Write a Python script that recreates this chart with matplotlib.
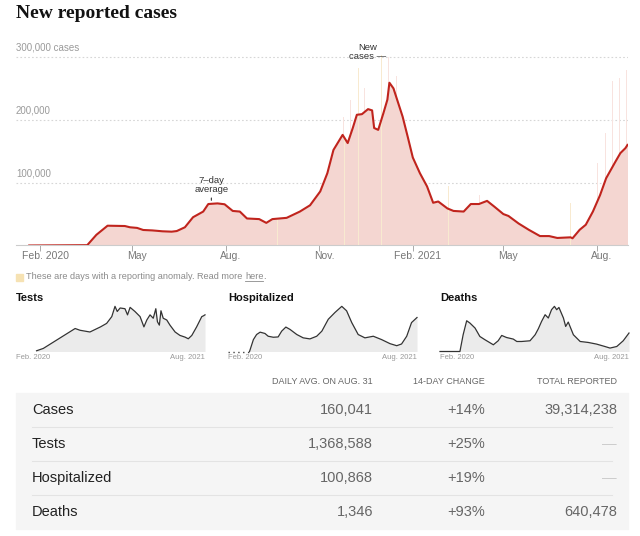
import pandas as pd
import matplotlib
matplotlib.use("Agg")
import matplotlib.pyplot as plt
from matplotlib.patches import Rectangle
from matplotlib.lines import Line2D
from matplotlib.transforms import ScaledTranslation

# 7-day average of new cases
avg_dates = ['2020-01-21', '2020-03-18', '2020-03-27', '2020-04-07', '2020-04-24', '2020-04-29',
             '2020-05-06', '2020-05-12', '2020-05-21', '2020-05-31', '2020-06-09', '2020-06-14',
             '2020-06-22', '2020-06-30', '2020-07-10', '2020-07-15', '2020-07-24', '2020-07-31',
             '2020-08-08', '2020-08-15', '2020-08-22', '2020-09-03', '2020-09-10', '2020-09-16',
             '2020-09-30', '2020-10-13', '2020-10-23', '2020-11-02', '2020-11-09', '2020-11-15',
             '2020-11-24', '2020-11-29', '2020-12-04', '2020-12-08', '2020-12-13', '2020-12-19',
             '2020-12-23', '2020-12-25', '2020-12-29', '2021-01-03', '2021-01-07', '2021-01-09',
             '2021-01-13', '2021-01-22', '2021-01-27', '2021-02-01', '2021-02-08', '2021-02-15',
             '2021-02-21', '2021-02-26', '2021-03-07', '2021-03-13', '2021-03-23', '2021-03-30',
             '2021-04-07', '2021-04-15', '2021-04-22', '2021-05-01', '2021-05-06', '2021-05-16',
             '2021-05-26', '2021-06-06', '2021-06-15', '2021-06-23', '2021-07-06', '2021-07-08',
             '2021-07-15', '2021-07-21', '2021-07-28', '2021-08-04', '2021-08-10', '2021-08-19',
             '2021-08-24', '2021-08-29', '2021-08-31']
avg_values = [0, 500, 17000, 31500, 31000, 29000,
              28000, 24700, 24000, 22600, 22000, 23000,
              29000, 45000, 54000, 66000, 67000, 65600,
              55000, 54000, 43000, 42000, 36000, 42000,
              44000, 54000, 64000, 86000, 115000, 152000,
              176000, 163000, 187000, 208000, 209000, 217000,
              215000, 187000, 184000, 210000, 232000, 259000,
              250000, 205000, 173000, 140000, 115000, 94000,
              68000, 70000, 59000, 55000, 54000, 66000,
              66000, 71000, 62000, 50000, 47000, 35000,
              25000, 15000, 15000, 12000, 13000, 11500,
              25000, 33000, 54000, 80000, 107000, 133000,
              147000, 155000, 160041]

# single days that stand out above the average
spike_dates = ['2020-11-25', '2020-12-02', '2020-12-16', '2021-01-08', '2021-01-16',
               '2021-04-08', '2021-08-02', '2021-08-09', '2021-08-16', '2021-08-23', '2021-08-30']
spike_values = [205000, 232000, 250000, 300000, 269000,
                80000, 131000, 179000, 261000, 266000, 280000]

# days with a reporting anomaly
anomaly_dates = ['2020-09-21', '2020-11-26', '2020-12-10', '2021-01-01', '2021-03-08', '2021-07-06']
anomaly_values = [44000, 170000, 282000, 303000, 94000, 67000]

tests_dates = ['2020-03-25', '2020-04-15', '2020-07-23', '2020-08-07', '2020-09-07', '2020-10-10',
               '2020-10-29', '2020-11-14', '2020-11-24', '2020-12-01', '2020-12-10', '2020-12-25',
               '2021-01-02', '2021-01-10', '2021-01-25', '2021-02-10', '2021-02-22', '2021-03-03',
               '2021-03-13', '2021-03-23', '2021-03-31', '2021-04-05', '2021-04-11', '2021-04-16',
               '2021-04-23', '2021-05-04', '2021-05-14', '2021-05-30', '2021-06-14', '2021-06-30',
               '2021-07-10', '2021-07-21', '2021-08-05', '2021-08-21', '2021-08-26', '2021-08-31']
tests_values = [27000, 115000, 858000, 793000, 728000, 919000,
                1049000, 1302000, 1685000, 1494000, 1624000, 1597000,
                1367000, 1647000, 1494000, 1302000, 919000, 1176000,
                1367000, 1241000, 1597000, 1111000, 984000, 1520000,
                1241000, 1176000, 984000, 728000, 601000, 536000,
                475000, 601000, 919000, 1302000, 1330000, 1368588]

hosp_dates = ['2020-03-28', '2020-04-09', '2020-04-19', '2020-04-30', '2020-05-15', '2020-05-25',
              '2020-06-10', '2020-06-25', '2020-07-06', '2020-07-19', '2020-08-01', '2020-08-22',
              '2020-09-11', '2020-10-02', '2020-10-23', '2020-11-08', '2020-11-28', '2020-12-19',
              '2021-01-09', '2021-01-24', '2021-02-09', '2021-03-01', '2021-03-22', '2021-04-17',
              '2021-05-13', '2021-06-08', '2021-06-29', '2021-07-14', '2021-07-30', '2021-08-14',
              '2021-08-31']
hosp_values = [0, 35300, 50400, 57400, 53500, 45300,
               42300, 43200, 60400, 72500, 65500, 50400,
               40500, 37400, 45300, 60400, 95700, 116000,
               134000, 120800, 85800, 50400, 40500, 45300,
               35300, 23300, 17200, 22300, 45300, 85800,
               100868]

deaths_dates = ['2020-01-21', '2020-03-23', '2020-04-02', '2020-04-13', '2020-04-23', '2020-05-09',
                '2020-05-24', '2020-06-09', '2020-07-05', '2020-07-20', '2020-07-31', '2020-08-15',
                '2020-09-05', '2020-09-16', '2020-10-01', '2020-10-27', '2020-11-12', '2020-11-22',
                '2020-12-02', '2020-12-13', '2020-12-23', '2021-01-02', '2021-01-11', '2021-01-18',
                '2021-01-25', '2021-02-08', '2021-02-15', '2021-02-23', '2021-03-11', '2021-04-01',
                '2021-04-26', '2021-05-22', '2021-06-17', '2021-07-03', '2021-07-24', '2021-08-13',
                '2021-08-31']
deaths_values = [0, 0, 1220, 2240, 2075, 1710,
                 1095, 855, 490, 780, 1170, 1020,
                 905, 730, 730, 780, 1220, 1660,
                 2190, 2680, 2440, 3045, 3290, 3045,
                 3210, 2440, 1825, 2145, 1220, 730,
                 660, 540, 365, 250, 365, 780,
                 1346]

month_ticks = ['2020-02-01', '2020-05-01', '2020-08-01', '2020-11-01',
               '2021-02-01', '2021-05-01', '2021-08-01']
month_labels = ['Feb. 2020', 'May', 'Aug.', 'Nov.', 'Feb. 2021', 'May', 'Aug.']

row_names = ['Cases', 'Tests', 'Hospitalized', 'Deaths']
daily_avg = ['160,041', '1,368,588', '100,868', '1,346']
change_14 = ['+14%', '+25%', '+19%', '+93%']
total_reported = ['39,314,238', '\u2014', '\u2014', '640,478']

W, H = 640, 536
RED = '#c0241d'
PINK = '#f4d6d1'
SPIKE = '#f8e3df'
YELLOW = '#f8ead0'
SANS = ['Liberation Sans', 'DejaVu Sans']
NARROW = ['Liberation Sans Narrow', 'Liberation Sans', 'DejaVu Sans']

fig = plt.figure(figsize=(W / 100, H / 100), dpi=100)


def fx(x):
    return x / W


def fy(y):
    return 1 - y / H


def px_axes(x0, y0, x1, y1):
    return fig.add_axes([fx(x0), fy(y1), (x1 - x0) / W, (y1 - y0) / H])


fig.text(fx(16), fy(18), 'New reported cases', family=['Liberation Serif'], weight='bold',
         fontsize=14, color='#121212', va='baseline')

# ---- main chart
ax = px_axes(16, 40, 628, 245.5)
d = pd.to_datetime(avg_dates)
ax.bar(pd.to_datetime(spike_dates), spike_values, width=1.0, color=SPIKE, lw=0, zorder=1)
ax.fill_between(d, avg_values, color=PINK, lw=0, zorder=2)
ax.bar(pd.to_datetime(anomaly_dates), anomaly_values, width=0.9, color=YELLOW, lw=0, zorder=3)
ax.plot(d, avg_values, color=RED, lw=1.5, zorder=4, solid_joinstyle='round')

ax.set_xlim(pd.Timestamp('2020-01-08'), pd.Timestamp('2021-08-31 12:00'))
ax.set_ylim(0, 327000)
for v, lab in [(100000, '100,000'), (200000, '200,000'), (300000, '300,000 cases')]:
    ax.axhline(v, color='#d6d6d6', lw=0.8, ls=(0, (1.5, 2)), zorder=0)
    t = ax.text(0, v, lab, fontsize=7, color='#9a9a9a', family=SANS, va='bottom', ha='left')
    t.set_transform(ax.get_yaxis_transform() + ScaledTranslation(0, 4 / 100, fig.dpi_scale_trans))

for s in ['top', 'right', 'left']:
    ax.spines[s].set_visible(False)
ax.spines['bottom'].set_color('#cccccc')
ax.spines['bottom'].set_linewidth(0.8)
ax.set_yticks([])
ax.set_xticks(pd.to_datetime(month_ticks))
ax.set_xticklabels([])
ax.tick_params(axis='x', which='major', length=4, width=0.7, color='#aaaaaa')
# labels sit a few days right of each tick
ax.set_xticks(pd.to_datetime(month_ticks) + pd.Timedelta(days=5), minor=True)
ax.set_xticklabels(month_labels, minor=True, fontsize=7.5, color='#777777', family=SANS)
ax.tick_params(axis='x', which='minor', length=0, pad=4)

# annotations
ax.annotate('', xy=(pd.Timestamp('2020-07-18'), 67500), xytext=(pd.Timestamp('2020-07-18'), 80000),
            arrowprops=dict(arrowstyle='-', color='#333333', lw=0.8))
ax.text(pd.Timestamp('2020-07-18'), 82000, '7\u2013day\naverage', ha='center', va='bottom',
        fontsize=6.8, color='#333333', family=SANS, linespacing=1.0)
ax.text(pd.Timestamp('2021-01-06'), 293000, 'New\ncases \u2014', ha='right', va='bottom',
        fontsize=6.8, color='#333333', family=SANS, linespacing=1.0, multialignment='center')

# anomaly note
fig.patches.append(Rectangle((fx(16), fy(280.5)), 7 / W, 7 / H, color='#f6e2b3', transform=fig.transFigure))
note = fig.text(fx(26), fy(276.5), 'These are days with a reporting anomaly. Read more ', fontsize=6.6,
                color='#8a8a8a', family=SANS, va='center')
fig.canvas.draw()
bb = note.get_window_extent()
here = fig.text(bb.x1 / W, fy(276.5), 'here', fontsize=6.6, color='#8a8a8a', family=SANS, va='center')
fig.canvas.draw()
hb = here.get_window_extent()
fig.add_artist(Line2D([hb.x0 / W, hb.x1 / W], [fy(281), fy(281)], color='#8a8a8a', lw=0.6))
fig.text(hb.x1 / W, fy(276.5), '.', fontsize=6.6, color='#8a8a8a', family=SANS, va='center')


# ---- small multiples
def small_panel(x0, title, dates, values, dotted_start=None):
    sax = px_axes(x0, 305, x0 + 189, 351.5)
    dd = pd.to_datetime(dates)
    sax.fill_between(dd, values, color='#ebebeb', lw=0)
    sax.plot(dd, values, color='#333333', lw=0.9, clip_on=False)
    if dotted_start is not None:
        sax.plot([pd.Timestamp(dotted_start), dd[0]], [0, 0], color='#444444', lw=1.0,
                 ls=(0, (1, 2.5)), clip_on=False)
    sax.set_xlim(pd.Timestamp('2020-01-21'), pd.Timestamp('2021-08-31'))
    sax.set_ylim(0, max(values) * 1.03)
    sax.axis('off')
    fig.text(fx(x0), fy(298), title, family=NARROW, weight='bold', fontsize=8, color='#121212',
             va='center')
    fig.text(fx(x0), fy(357.5), 'Feb. 2020', family=SANS, fontsize=5.5, color='#999999', va='center')
    fig.text(fx(x0 + 189), fy(357.5), 'Aug. 2021', family=SANS, fontsize=5.5, color='#999999',
             va='center', ha='right')


small_panel(16, 'Tests', tests_dates, tests_values)
small_panel(228, 'Hospitalized', hosp_dates, hosp_values, dotted_start='2020-01-21')
small_panel(440, 'Deaths', deaths_dates, deaths_values)

# ---- summary table
headers = ['DAILY AVG. ON AUG. 31', '14-DAY CHANGE', 'TOTAL REPORTED']
col_right = [373, 485, 617]
for h, xr in zip(headers, col_right):
    fig.text(fx(xr), fy(381), h, family=NARROW, fontsize=6.5, color='#666666', ha='right', va='center')

fig.patches.append(Rectangle((fx(16), fy(529)), (628 - 16) / W, (529 - 393) / H, color='#f5f5f5',
                             transform=fig.transFigure, zorder=0))
row_y = [410, 444, 478, 512]
for i, yy in enumerate(row_y):
    fig.text(fx(32), fy(yy), row_names[i], family=SANS, fontsize=10.5, color='#222222', va='center')
    fig.text(fx(col_right[0]), fy(yy), daily_avg[i], family=SANS, fontsize=10.5, color='#666666',
             va='center', ha='right')
    fig.text(fx(col_right[1]), fy(yy), change_14[i], family=SANS, fontsize=10.5, color='#666666',
             va='center', ha='right')
    dash = total_reported[i] == '\u2014'
    fig.text(fx(col_right[2]), fy(yy), total_reported[i], family=SANS, fontsize=10.5,
             color='#cccccc' if dash else '#666666', va='center', ha='right')
    if i < 3:
        fig.add_artist(Line2D([fx(32), fx(612)], [fy(yy + 17), fy(yy + 17)], color='#e3e3e3', lw=0.8))

fig.savefig('out.png', dpi=100)
